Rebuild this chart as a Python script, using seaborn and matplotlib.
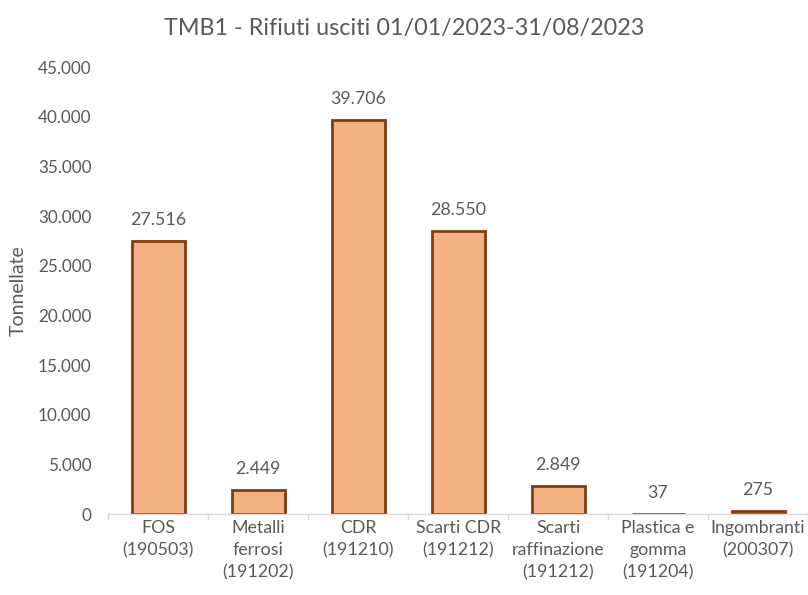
import matplotlib
matplotlib.use("Agg")
import matplotlib.pyplot as plt
import seaborn as sns
import pandas as pd
import numpy as np

categories = ["FOS\n(190503)", "Metalli\nferrosi\n(191202)", "CDR\n(191210)", "Scarti CDR\n(191212)",
              "Scarti\nraffinazione\n(191212)", "Plastica e\ngomma\n(191204)", "Ingombranti\n(200307)"]
values = [27516, 2449, 39706, 28550, 2849, 37, 275]
value_labels = ["27.516", "2.449", "39.706", "28.550", "2.849", "37", "275"]
yticks = [0, 5000, 10000, 15000, 20000, 25000, 30000, 35000, 40000, 45000]
ytick_labels = ["0", "5.000", "10.000", "15.000", "20.000", "25.000", "30.000", "35.000", "40.000", "45.000"]

sns.set_theme(style="white")
plt.rcParams['font.family'] = ['Lato', 'DejaVu Sans']
txt = "#595959"
fs = 12.8

df = pd.DataFrame({"cat": categories, "val": values})
fig = plt.figure(figsize=(8.08, 5.95), dpi=100)
ax = fig.add_axes([0.134, 0.136, 0.866, 0.751])
sns.barplot(data=df, x="cat", y="val", ax=ax, color="#F4B183", saturation=1,
            edgecolor="#843C0C", linewidth=2, width=0.53)
ax.set_ylim(0, 45000)
ax.set_xlim(-0.5, len(categories) - 0.5)
ax.set_yticks(yticks)
ax.set_yticklabels(ytick_labels, color=txt, fontsize=12.3)
ax.set_xticks(range(len(categories)))
ax.set_xticklabels(categories, color=txt, fontsize=fs, linespacing=1.5)
ax.tick_params(axis="x", length=0, pad=4)
ax.tick_params(axis="y", length=0, pad=12)
for s in ["top", "right", "left"]:
    ax.spines[s].set_visible(False)
ax.spines["bottom"].set_color("#D9D9D9")
ax.spines["bottom"].set_linewidth(1)
for b in np.arange(-0.5, len(categories), 1.0):
    ax.plot([b, b], [0, -0.012], transform=ax.get_xaxis_transform(), color="#D9D9D9", lw=1, clip_on=False)
for i, (v, l) in enumerate(zip(values, value_labels)):
    ax.text(i, v + 1300, l, ha="center", va="bottom", color=txt, fontsize=fs)
ax.set_xlabel("")
ax.set_ylabel("Tonnellate", color=txt, fontsize=14)
ax.yaxis.set_label_coords(-0.117, 0.5)
fig.text(0.5 + 0.0, 0.952, "TMB1 - Rifiuti usciti 01/01/2023-31/08/2023", ha="center", va="center",
         color=txt, fontsize=16.8)
fig.savefig("out.png", dpi=100)
